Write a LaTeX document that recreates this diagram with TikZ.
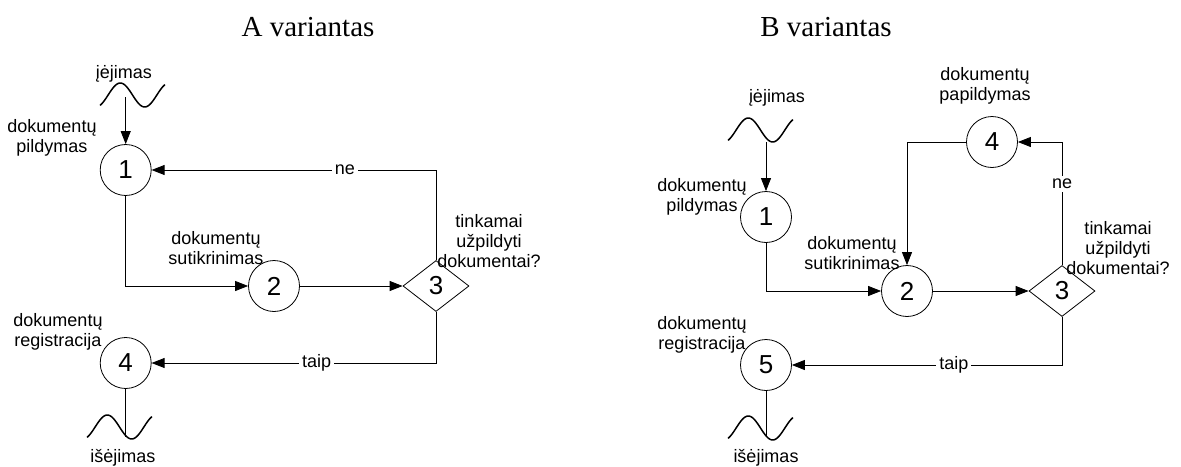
\documentclass[tikz,border=0pt]{standalone}
\usepackage{fontspec}
\setmainfont{Liberation Serif}
\newfontfamily\arialfont{Liberation Sans}
\usetikzlibrary{arrows.meta,shapes.geometric}

\tikzset{
  proc/.style={circle,draw,minimum size=51pt,inner sep=0pt,
    font=\arialfont\fontsize{26}{26}\selectfont},
  check/.style={diamond,draw,minimum width=66pt,minimum height=51pt,inner sep=0pt,
    font=\arialfont\fontsize{26}{26}\selectfont},
  txt/.style={align=center,inner sep=0pt,font=\arialfont\fontsize{18}{20}\selectfont},
  cut/.style={fill=white,inner sep=3pt,font=\arialfont\fontsize{18}{20}\selectfont},
  title/.style={inner sep=0pt,font=\fontsize{29}{29}\selectfont},
  wave/.style={line width=1.5pt}
}

\begin{document}
\begin{tikzpicture}[x=1pt,y=-1pt,line width=0.8pt,>={Triangle[length=13pt,width=10pt]}]
\useasboundingbox (0,0) rectangle (1181,466);

% titles
\node[title] (ta) at (308,27) {A variantas};
\node[title] (tb) at (826,27) {B variantas};

% waves (input and output)
\foreach \wx/\wy in {100/95, 87/427, 728/130, 728/428}
  \draw[wave] plot[domain=-60:420,samples=60,variable=\t] ({\wx+(\t+60)/480*65},{\wy-12*sin(\t)});

% A variantas
\coordinate (ain) at (125.7,97);
\coordinate (aout) at (125.7,437);
\node[proc] (a1) at (125.7,170) {1};
\node[proc] (a2) at (274,286) {2};
\node[check] (a3) at (436,286) {3};
\node[proc] (a4) at (125.7,363) {4};

\node[txt] (ainl) at (124,74) {įėjimas};
\node[txt] (a1l) at (52,138) {dokumentų\\pildymas};
\node[txt] (a2l) at (216,248) {dokumentų\\sutikrinimas};
\node[txt] (a3l) at (489,241) {tinkamai\\užpildyti\\dokumentai?};
\node[txt] (a4l) at (58,332) {dokumentų\\registracija};
\node[txt] (aoutl) at (123,458) {išėjimas};

\draw[->] (ain) -- (a1);
\draw[->] (a1) |- (a2);
\draw[->] (a2) -- (a3);
\draw[->] (a3) |- node[cut,pos=0.66] {ne} (a1);
\draw[->] (a3) |- node[cut,pos=0.71] {taip} (a4);
\draw (a4) -- (aout);

% B variantas
\coordinate (bin) at (766,142);
\coordinate (bout) at (766,437);
\node[proc] (b1) at (766,217) {1};
\node[proc] (b2) at (907,291) {2};
\node[check] (b3) at (1062,291) {3};
\node[proc] (b4) at (992,142) {4};
\node[proc] (b5) at (766,365) {5};

\node[txt] (binl) at (777,98) {įėjimas};
\node[txt] (b1l) at (702,197) {dokumentų\\pildymas};
\node[txt] (b2l) at (852,253) {dokumentų\\sutikrinimas};
\node[txt] (b3l) at (1118,248) {tinkamai\\užpildyti\\dokumentai?};
\node[txt] (b4l) at (985,86) {dokumentų\\papildymas};
\node[txt] (b5l) at (702,335) {dokumentų\\registracija};
\node[txt] (boutl) at (766,458) {išėjimas};

\draw[->] (bin) -- (b1);
\draw[->] (b1) |- (b2);
\draw[->] (b2) -- (b3);
\draw[->] (b3) |- node[cut,pos=0.33] {ne} (b4);
\draw[->] (b4) -| (b2);
\draw[->] (b3) |- node[cut,pos=0.70] {taip} (b5);
\draw (b5) -- (bout);
\end{tikzpicture}
\end{document}
